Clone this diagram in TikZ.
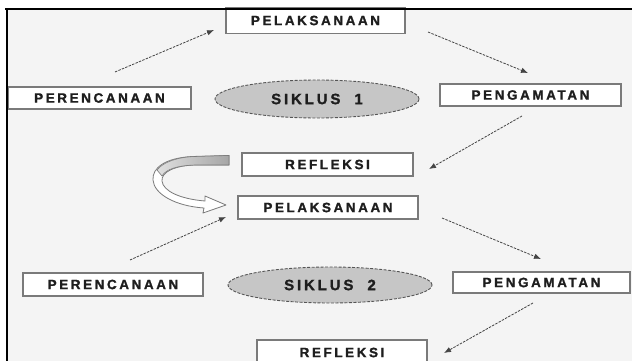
\documentclass[tikz,border=0pt]{standalone}
\usepackage{fontspec}
\setmainfont{Liberation Sans}
\newfontfamily\lblfont{Liberation Sans Bold}[LetterSpace=19,FakeBold=1.3]
\usetikzlibrary{arrows.meta,shapes.geometric}
\definecolor{bgc}{HTML}{F4F4F4}
\definecolor{boxgray}{HTML}{7A7A7A}
\definecolor{ellfill}{HTML}{C6C6C6}
\definecolor{ellline}{HTML}{555555}
\definecolor{arr}{HTML}{444444}
\definecolor{txt}{HTML}{1E1E1E}
\tikzset{
  box/.style={draw=boxgray, line width=1.1pt, fill=white, inner sep=0pt,
    font=\lblfont\fontsize{13.5}{15}\selectfont, text=txt},
  ell/.style={ellipse, draw=ellline, dash pattern=on 3pt off 1.5pt, line width=0.9pt,
    fill=ellfill, inner sep=0pt, font=\lblfont\fontsize{15}{17}\selectfont, text=txt},
  conn/.style={draw=arr, line width=0.8pt, dash pattern=on 2.5pt off 1.2pt,
    -{Latex[length=7pt,width=5.5pt]}},
  frame/.style={draw=black, line width=2.6pt}
}
\begin{document}
\begin{tikzpicture}[x=1pt,y=-1pt]
\useasboundingbox (0,0) rectangle (632,361);
\fill[white] (0,0) rectangle (632,361);
\fill[bgc] (6,9) rectangle (632,361);

% cycle 1
\node[box, minimum width=179pt, minimum height=26pt] (P1) at (315.5,20.5) {PELAKSANAAN};
\node[box, minimum width=183pt, minimum height=22pt] (R1) at (99.5,98) {PERENCANAAN};
\node[ell, minimum width=204pt, minimum height=38pt] (S1) at (317,99) {SIKLUS\ \ 1};
\node[box, minimum width=181pt, minimum height=22pt] (G1) at (530.5,95) {PENGAMATAN};
\node[box, minimum width=171pt, minimum height=23pt] (F1) at (327.5,164.5) {REFLEKSI};

% cycle 2
\node[box, minimum width=180pt, minimum height=23pt] (P2) at (328,207.5) {PELAKSANAAN};
\node[box, minimum width=180pt, minimum height=23pt] (R2) at (113,284.5) {PERENCANAAN};
\node[ell, minimum width=204pt, minimum height=36pt] (S2) at (330,285) {SIKLUS\ \ 2};
\node[box, minimum width=177pt, minimum height=21pt] (G2) at (541.5,282.5) {PENGAMATAN};
\node[box, minimum width=170pt, minimum height=25pt] (F2) at (342,352.5) {REFLEKSI};

% connector end points
\coordinate (a1s) at (115,72);  \coordinate (a1e) at (214,30);
\coordinate (a2s) at (428,32);  \coordinate (a2e) at (528,73);
\coordinate (a3s) at (522,116); \coordinate (a3e) at (429,169);
\coordinate (a4s) at (130,260); \coordinate (a4e) at (226,217);
\coordinate (a5s) at (442,218); \coordinate (a5e) at (541,259);
\coordinate (a6s) at (533,303); \coordinate (a6e) at (444,353);

\draw[conn] (a1s) -- (a1e);
\draw[conn] (a2s) -- (a2e);
\draw[conn] (a3s) -- (a3e);
\draw[conn] (a4s) -- (a4e);
\draw[conn] (a5s) -- (a5e);
\draw[conn] (a6s) -- (a6e);

% curved U-turn block arrow from REFLEKSI to PELAKSANAAN
\draw[draw=boxgray, line width=0.8pt, fill=white, line join=round]
  (229,155.5) -- (192,156.5) .. controls (165,158) and (152,168) .. (153,180)
  .. controls (154,194) and (175,206) .. (204,208) -- (203,213) -- (226,205)
  -- (205,196) -- (205,201) .. controls (180,199) and (163,191) .. (162,181)
  .. controls (161,172) and (175,165.5) .. (195,165) -- (229,165) -- cycle;
\shade[left color=gray!25, right color=gray!70, draw=boxgray, line width=0.6pt]
  (229,155.5) -- (195,156.5) .. controls (178,157) and (163,162) .. (157,170)
  -- (162,176) .. controls (166,169) and (178,165.5) .. (195,165) -- (229,165) -- cycle;

% frame
\draw[frame] (5,9) -- (632,9);
\draw[frame] (7,9) -- (7,361);
\end{tikzpicture}
\end{document}
